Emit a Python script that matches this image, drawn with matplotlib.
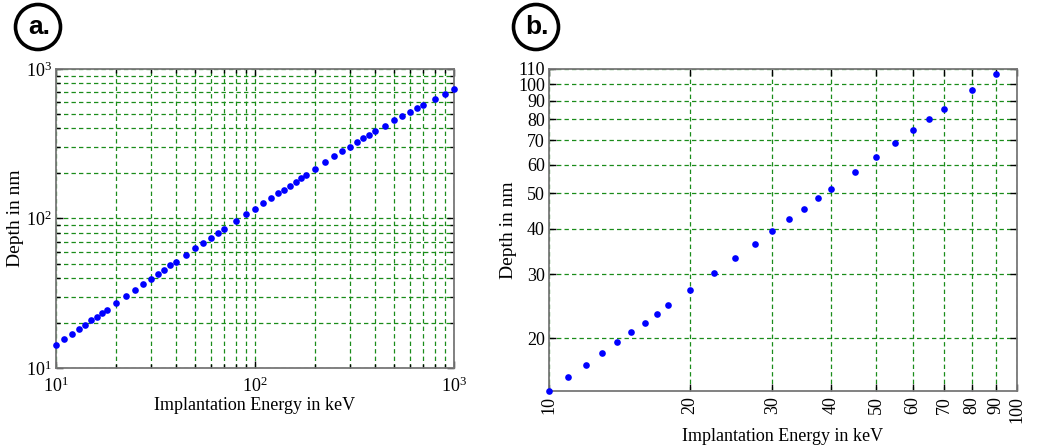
import matplotlib
matplotlib.use("Agg")
import matplotlib.pyplot as plt
from matplotlib.ticker import FixedLocator, NullLocator, FixedFormatter, LogLocator, NullFormatter
from matplotlib.patches import Circle

plt.rcParams['font.family'] = ['Liberation Serif', 'DejaVu Serif']
plt.rcParams['mathtext.fontset'] = 'stix'

# Panel a data (energy keV, depth nm)
energy_a = [10, 11, 12, 13, 14, 15, 16, 17, 18, 20, 22.5, 25, 27.5, 30, 32.5, 35, 37.5, 40,
            45, 50, 55, 60, 65, 70, 80, 90,
            100, 110, 120, 130, 140, 150, 160, 170, 180, 200, 225, 250, 275, 300, 325, 350, 375, 400,
            450, 500, 550, 600, 650, 700, 800, 900, 1000]
depth_a = [14.3, 15.6, 16.9, 18.2, 19.5, 20.8, 22.0, 23.3, 24.6, 27.1, 30.2, 33.3, 36.4, 39.4, 42.5, 45.4, 48.5, 51.5,
           57.3, 63.1, 68.8, 74.5, 79.9, 85.3, 96.1, 106.8,
           116, 127, 137, 147, 156, 166, 176, 186, 196, 214, 237, 260, 282, 303, 324, 345, 363, 382,
           417, 453, 487, 518, 548, 577, 633, 684, 735]

# Panel b data
energy_b = [10, 11, 12, 13, 14, 15, 16, 17, 18, 20, 22.5, 25, 27.5, 30, 32.5, 35, 37.5, 40,
            45, 50, 55, 60, 65, 70, 80, 90]
depth_b = [14.3, 15.6, 16.9, 18.2, 19.5, 20.8, 22.0, 23.3, 24.6, 27.1, 30.2, 33.3, 36.4, 39.4, 42.5, 45.4, 48.5, 51.5,
           57.3, 63.1, 68.8, 74.5, 79.9, 85.3, 96.1, 106.8]

xticks_b = [10, 20, 30, 40, 50, 60, 70, 80, 90, 100]
yticks_b = [20, 30, 40, 50, 60, 70, 80, 90, 100, 110]

xlabel = "Implantation Energy in keV"
ylabel = "Depth in nm"

fig = plt.figure(figsize=(10.39, 4.47), dpi=100)
ax_a = fig.add_axes([0.0539, 0.1767, 0.383, 0.669])
ax_b = fig.add_axes([0.5284, 0.1253, 0.4504, 0.7204])

grid_kw = dict(color='#1a8c1a', linestyle=(0, (3.5, 2.5)), linewidth=0.9)

for ax in (ax_a, ax_b):
    for s in ax.spines.values():
        s.set_color('#777777')
        s.set_linewidth(1.3)
    ax.tick_params(which='both', direction='in', top=True, right=True, colors='black',
                   labelsize=13, labelcolor='black')
    ax.tick_params(which='major', length=5, width=1)
    ax.tick_params(which='minor', length=3, width=1)

# Panel a
ax_a.loglog(energy_a, depth_a, 'o', color='#0000ff', markersize=4.8, markeredgewidth=0, clip_on=False, zorder=3)
ax_a.set_xlim(10, 1000)
ax_a.set_ylim(10, 1000)
ax_a.xaxis.set_major_locator(LogLocator(base=10))
ax_a.yaxis.set_major_locator(LogLocator(base=10))
ax_a.xaxis.set_minor_locator(LogLocator(base=10, subs=range(2, 10)))
ax_a.yaxis.set_minor_locator(LogLocator(base=10, subs=range(2, 10)))
ax_a.xaxis.set_minor_formatter(NullFormatter())
ax_a.yaxis.set_minor_formatter(NullFormatter())
ax_a.grid(True, which='both', **grid_kw)
ax_a.set_xlabel(xlabel, fontsize=13, labelpad=1)
ax_a.set_ylabel(ylabel, fontsize=14, labelpad=1)
ax_a.tick_params(axis='x', which='major', labelsize=13, pad=6)
ax_a.tick_params(axis='y', which='major', labelsize=13, pad=3)

# Panel b
ax_b.loglog(energy_b, depth_b, 'o', color='#0000ff', markersize=4.8, markeredgewidth=0, clip_on=False, zorder=3)
ax_b.set_xlim(10, 100)
ax_b.set_ylim(depth_b[0], 110)
ax_b.xaxis.set_major_locator(FixedLocator(xticks_b))
ax_b.xaxis.set_major_formatter(FixedFormatter([str(t) for t in xticks_b]))
ax_b.yaxis.set_major_locator(FixedLocator(yticks_b))
ax_b.yaxis.set_major_formatter(FixedFormatter([str(t) for t in yticks_b]))
ax_b.xaxis.set_minor_locator(NullLocator())
ax_b.yaxis.set_minor_locator(NullLocator())
ax_b.grid(True, which='major', **grid_kw)
ax_b.tick_params(axis='x', labelrotation=90, labelsize=13)
ax_b.tick_params(axis='y', labelsize=13, pad=3)
ax_b.set_xlabel(xlabel, fontsize=13, labelpad=4)
ax_b.set_ylabel(ylabel, fontsize=14, labelpad=1)

# Panel letters in circles
for (cx, cy, txt) in [(38, 27, 'a.'), (536, 27, 'b.')]:
    fx, fy = cx / 1039, 1 - cy / 447
    circ = Circle((cx, 447 - cy), 22.5, transform=None, fill=False, edgecolor='black', linewidth=2.6)
    fig.patches.append(circ)
    fig.text(fx + 0.001, fy, txt, ha='center', va='center', fontsize=19, fontweight='bold',
             family='Liberation Sans')

fig.savefig('out.png', dpi=100)
